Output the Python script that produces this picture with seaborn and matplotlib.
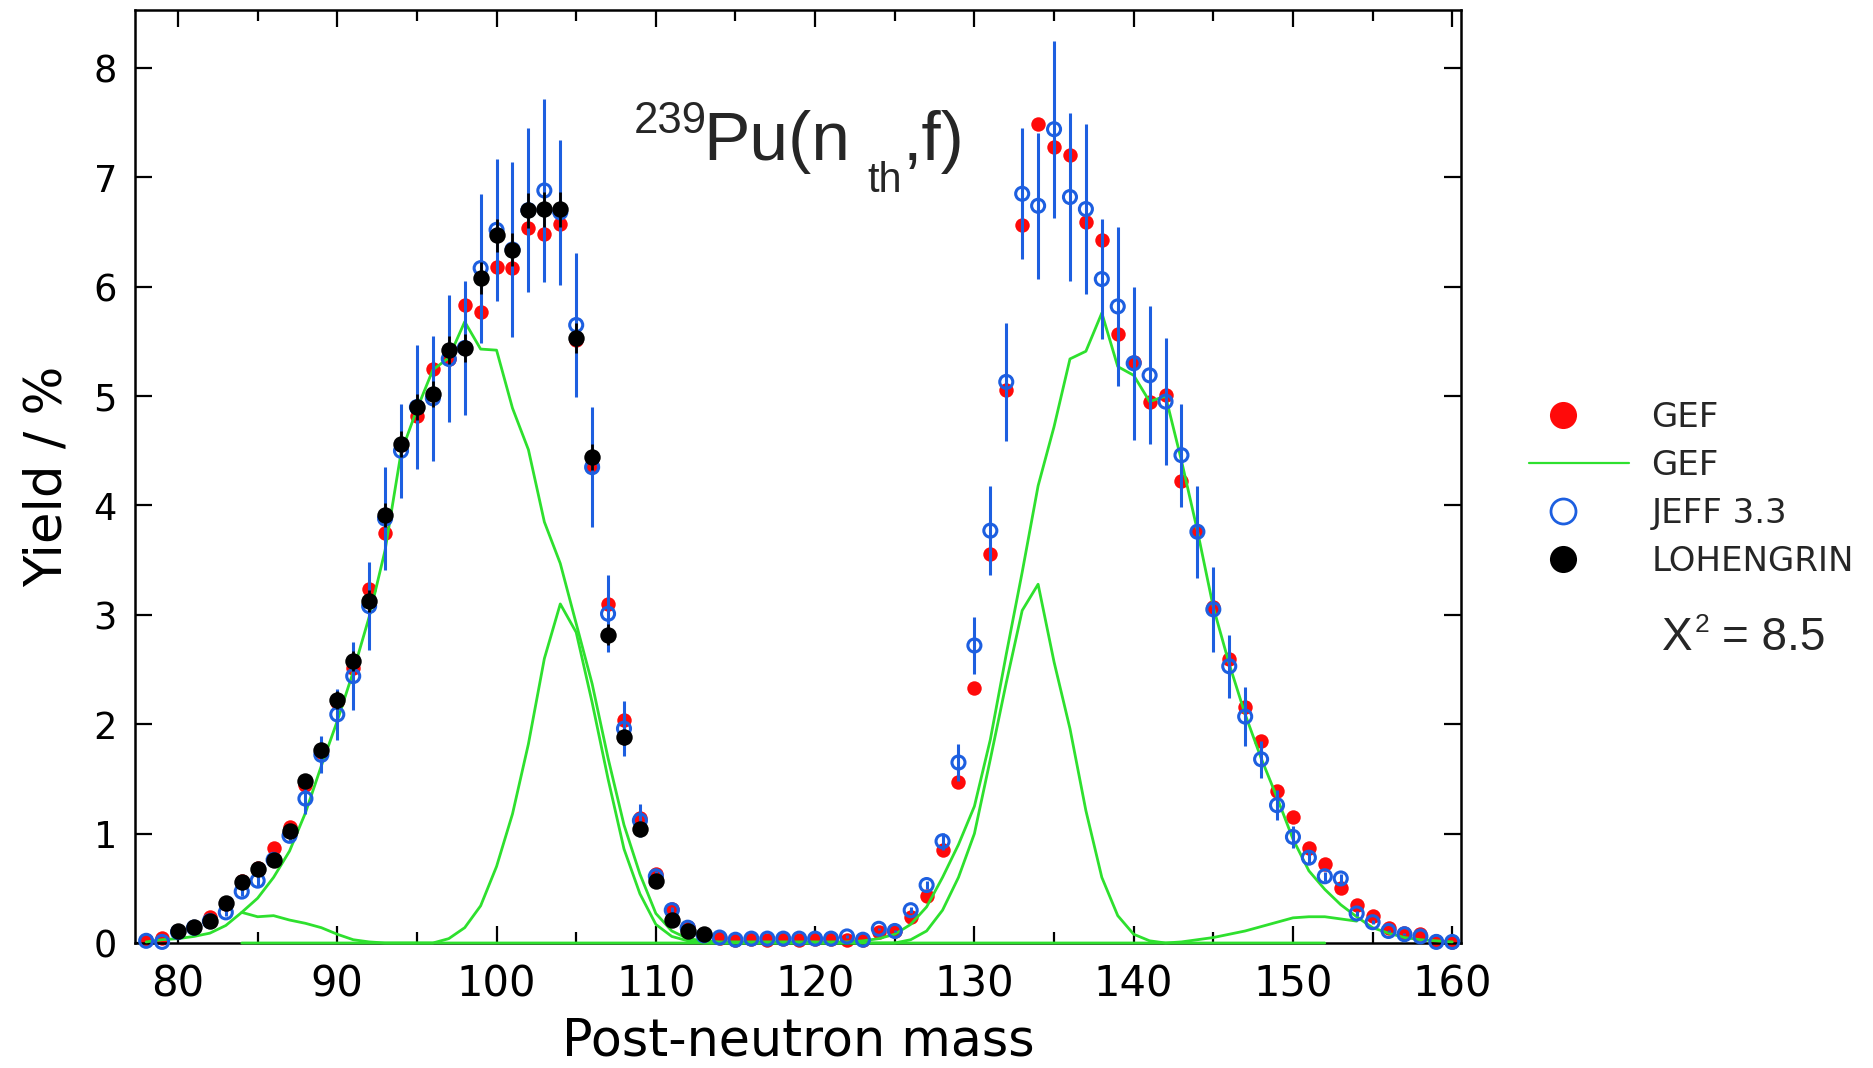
import matplotlib
matplotlib.use("Agg")
import matplotlib.pyplot as plt
import seaborn as sns
from matplotlib.lines import Line2D
from matplotlib.legend_handler import HandlerLine2D
from matplotlib.ticker import MultipleLocator

# ---------------------------------------------------------------- data
mass_all = list(range(78, 161))          # post-neutron mass, GEF / JEFF points
mass_lohengrin = list(range(80, 114))    # LOHENGRIN light-fragment masses
mass_s1 = list(range(84, 153))           # GEF standard-1 mode curve
mass_s3 = list(range(84, 155))           # GEF standard-3 mode curve

gef_yield = [
    0.03, 0.05, 0.11, 0.15, 0.24, 0.36, 0.57, 0.69, 0.87, 1.06,   # 78-87
    1.44, 1.75, 2.20, 2.51, 3.24, 3.75, 4.55, 4.82, 5.25, 5.34,   # 88-97
    5.83, 5.77, 6.18, 6.17, 6.54, 6.48, 6.57, 5.51, 4.37, 3.10,   # 98-107
    2.04, 1.14, 0.63, 0.31, 0.15, 0.08, 0.05, 0.03, 0.04, 0.03,   # 108-117
    0.04, 0.03, 0.04, 0.04, 0.03, 0.03, 0.10, 0.11, 0.24, 0.43,   # 118-127
    0.85, 1.47, 2.33, 3.56, 5.06, 6.56, 7.49, 7.28, 7.20, 6.59,   # 128-137
    6.43, 5.57, 5.31, 4.95, 5.01, 4.22, 3.77, 3.07, 2.60, 2.16,   # 138-147
    1.85, 1.39, 1.15, 0.87, 0.72, 0.50, 0.35, 0.25, 0.14, 0.09,   # 148-157
    0.08, 0.02, 0.01,                                             # 158-160
]

jeff_yield = [
    0.02, 0.01, 0.10, 0.14, 0.20, 0.28, 0.47, 0.57, 0.76, 0.98,
    1.32, 1.72, 2.09, 2.44, 3.08, 3.88, 4.50, 4.90, 4.98, 5.34,
    5.44, 6.17, 6.52, 6.34, 6.70, 6.88, 6.68, 5.65, 4.35, 3.01,
    1.96, 1.12, 0.61, 0.30, 0.14, 0.07, 0.05, 0.03, 0.04, 0.04,
    0.04, 0.04, 0.04, 0.04, 0.06, 0.03, 0.13, 0.11, 0.30, 0.53,
    0.93, 1.65, 2.72, 3.77, 5.13, 6.85, 6.74, 7.44, 6.82, 6.71,
    6.07, 5.82, 5.30, 5.19, 4.95, 4.46, 3.76, 3.05, 2.53, 2.07,
    1.68, 1.26, 0.97, 0.78, 0.61, 0.59, 0.27, 0.19, 0.11, 0.08,
    0.06, 0.01, 0.01,
]

jeff_err = [
    0.00, 0.00, 0.01, 0.01, 0.02, 0.03, 0.04, 0.05, 0.06, 0.06,
    0.14, 0.17, 0.23, 0.31, 0.40, 0.47, 0.43, 0.57, 0.57, 0.58,
    0.61, 0.68, 0.65, 0.80, 0.75, 0.84, 0.66, 0.66, 0.55, 0.35,
    0.25, 0.15, 0.05, 0.03, 0.01, 0.01, 0.00, 0.00, 0.00, 0.00,
    0.00, 0.00, 0.00, 0.00, 0.01, 0.00, 0.01, 0.01, 0.03, 0.04,
    0.08, 0.17, 0.26, 0.41, 0.54, 0.60, 0.67, 0.81, 0.77, 0.78,
    0.55, 0.73, 0.70, 0.63, 0.58, 0.47, 0.42, 0.39, 0.29, 0.27,
    0.17, 0.14, 0.10, 0.06, 0.04, 0.04, 0.02, 0.02, 0.01, 0.01,
    0.00, 0.00, 0.00,
]

lohengrin_yield = [
    0.11, 0.15, 0.20, 0.37, 0.56, 0.68, 0.76, 1.02, 1.48, 1.76,   # 80-89
    2.22, 2.58, 3.13, 3.91, 4.56, 4.90, 5.02, 5.42, 5.44, 6.08,   # 90-99
    6.47, 6.34, 6.70, 6.71, 6.71, 5.53, 4.44, 2.82, 1.88, 1.04,   # 100-109
    0.57, 0.21, 0.11, 0.08,                                       # 110-113
]
lohengrin_err = [
    0.01, 0.01, 0.02, 0.02, 0.03, 0.03, 0.04, 0.05, 0.06, 0.07,
    0.08, 0.09, 0.10, 0.11, 0.12, 0.12, 0.12, 0.13, 0.13, 0.15,
    0.15, 0.15, 0.16, 0.16, 0.16, 0.14, 0.12, 0.10, 0.07, 0.05,
    0.03, 0.02, 0.01, 0.01,
]

gef_total = [
    0.01, 0.03, 0.04, 0.06, 0.09, 0.16, 0.28, 0.41, 0.60, 0.84,   # 78-87
    1.19, 1.62, 2.03, 2.48, 2.98, 3.59, 4.48, 4.88, 5.24, 5.35,   # 88-97
    5.68, 5.43, 5.42, 4.89, 4.51, 3.85, 3.47, 2.92, 2.37, 1.69,   # 98-107
    1.08, 0.63, 0.27, 0.11, 0.04, 0.02, 0.01, 0.01, 0.01, 0.01,   # 108-117
    0.01, 0.01, 0.01, 0.01, 0.01, 0.02, 0.04, 0.08, 0.17, 0.33,   # 118-127
    0.60, 0.90, 1.25, 1.86, 2.64, 3.39, 4.18, 4.72, 5.34, 5.41,   # 128-137
    5.76, 5.27, 5.19, 4.95, 5.00, 4.41, 3.77, 3.07, 2.55, 2.09,   # 138-147
    1.69, 1.33, 0.95, 0.66, 0.49, 0.35, 0.24, 0.14, 0.09, 0.05,   # 148-157
    0.03, 0.02, 0.01,                                             # 158-160
]

gef_s1 = [
    0.00, 0.00, 0.00, 0.00, 0.00, 0.00, 0.00, 0.00, 0.00, 0.00,   # 84-93
    0.00, 0.00, 0.00, 0.04, 0.14, 0.34, 0.70, 1.18, 1.82, 2.60,   # 94-103
    3.10, 2.84, 2.20, 1.50, 0.86, 0.45, 0.17, 0.06, 0.02, 0.00,   # 104-113
    0.00, 0.00, 0.00, 0.00, 0.00, 0.00, 0.00, 0.00, 0.00, 0.00,   # 114-123
    0.00, 0.00, 0.03, 0.11, 0.30, 0.60, 1.00, 1.68, 2.38, 3.04,   # 124-133
    3.28, 2.57, 1.96, 1.21, 0.60, 0.25, 0.08, 0.02, 0.00, 0.00,   # 134-143
    0.00, 0.00, 0.00, 0.00, 0.00, 0.00, 0.00, 0.00, 0.00,         # 144-152
]

gef_s3 = [
    0.28, 0.24, 0.25, 0.21, 0.18, 0.14, 0.08, 0.03, 0.01, 0.00,   # 84-93
    0.00, 0.00, 0.00, 0.00, 0.00, 0.00, 0.00, 0.00, 0.00, 0.00,   # 94-103
    0.00, 0.00, 0.00, 0.00, 0.00, 0.00, 0.00, 0.00, 0.00, 0.00,   # 104-113
    0.00, 0.00, 0.00, 0.00, 0.00, 0.00, 0.00, 0.00, 0.00, 0.00,   # 114-123
    0.00, 0.00, 0.00, 0.00, 0.00, 0.00, 0.00, 0.00, 0.00, 0.00,   # 124-133
    0.00, 0.00, 0.00, 0.00, 0.00, 0.00, 0.00, 0.00, 0.00, 0.01,   # 134-143
    0.03, 0.05, 0.08, 0.11, 0.15, 0.19, 0.23, 0.24, 0.24, 0.22,   # 144-153
    0.20,                                                         # 154
]

x_ticks = [80, 90, 100, 110, 120, 130, 140, 150, 160]
x_tick_labels = ["80", "90", "100", "110", "120", "130", "140", "150", "160"]
y_ticks = [0, 1, 2, 3, 4, 5, 6, 7, 8]
y_tick_labels = ["0", "1", "2", "3", "4", "5", "6", "7", "8"]

legend_labels = ["GEF", "GEF", "JEFF 3.3", "LOHENGRIN"]

# ---------------------------------------------------------------- style
RED = "#ff0a0a"
GREEN = "#2ee02e"
BLUE = "#1d5fe0"

sns.set_theme(style="ticks")
plt.rcParams["font.family"] = ["DejaVu Sans"]
plt.rcParams["axes.linewidth"] = 1.8

W, H = 1874, 1068
fig = plt.figure(figsize=(W / 100, H / 100), dpi=100, facecolor="white")
ax = fig.add_axes([135 / W, 1 - 943 / H, (1461 - 135) / W, (943 - 10) / H])
ax.set_facecolor("white")

# GEF points (bottom layer)
sns.scatterplot(x=mass_all, y=gef_yield, color=RED, s=108, linewidth=0,
                ax=ax, zorder=2, clip_on=False, legend=False)

# GEF calculated curves: total and two mode components
for xs, ys in ((mass_all, gef_total), (mass_s1, gef_s1), (mass_s3, gef_s3)):
    sns.lineplot(x=xs, y=ys, color=GREEN, linewidth=2.0, ax=ax,
                 zorder=3, clip_on=False, legend=False)

# JEFF 3.3 evaluation with uncertainties
ax.errorbar(mass_all, jeff_yield, yerr=jeff_err, fmt="none",
            ecolor=BLUE, elinewidth=2.2, capsize=0, zorder=4)
sns.scatterplot(x=mass_all, y=jeff_yield, marker="o", s=88,
                facecolor="none", edgecolor=BLUE, linewidth=2.2,
                ax=ax, zorder=4, clip_on=False, legend=False)

# LOHENGRIN measurement
ax.errorbar(mass_lohengrin, lohengrin_yield, yerr=lohengrin_err, fmt="none",
            ecolor="black", elinewidth=2.0, capsize=0, zorder=5)
sns.scatterplot(x=mass_lohengrin, y=lohengrin_yield, color="black", s=140,
                linewidth=0, ax=ax, zorder=5, clip_on=False, legend=False)

# ---------------------------------------------------------------- axes
ax.set_xlim(77.3, 160.55)
ax.set_ylim(0, 8.53)
ax.set_xticks(x_ticks)
ax.set_xticklabels(x_tick_labels,
                   fontfamily=["Liberation Sans Narrow", "DejaVu Sans"],
                   fontsize=30)
ax.xaxis.set_minor_locator(MultipleLocator(5))
ax.set_yticks(y_ticks)
ax.set_yticklabels(y_tick_labels, fontsize=26.5)

ax.tick_params(which="both", direction="in", top=True, right=True,
               width=1.6, color="black", labelcolor="black")
ax.tick_params(which="major", length=12.5)
ax.tick_params(which="minor", length=8)
ax.tick_params(axis="x", which="major", pad=15)
ax.tick_params(axis="y", which="major", pad=13)
for sp in ax.spines.values():
    sp.set_visible(True)
    sp.set_color("black")
    sp.set_linewidth(1.8)

ax.set_xlabel("Post-neutron mass", fontsize=36.5, labelpad=8, color="black")
ax.set_ylabel("Yield / %", fontsize=37, labelpad=15, color="black")

# ---------------------------------------------------------------- title
title_font = ["Liberation Sans", "DejaVu Sans"]
fig.text(634 / W, 1 - 133 / H, "239", fontsize=31.5, family=title_font,
         ha="left", va="baseline")
fig.text(703 / W, 1 - 160 / H, "Pu(n", fontsize=50, family=title_font,
         ha="left", va="baseline")
fig.text(867 / W, 1 - 192 / H, "th", fontsize=30, family=title_font,
         ha="left", va="baseline")
fig.text(903 / W, 1 - 160 / H, ",f)", fontsize=50, family=title_font,
         ha="left", va="baseline")

# chi-square annotation
fig.text(1662 / W, 1 - 650 / H, "X", fontsize=33, family=title_font,
         ha="left", va="baseline")
fig.text(1695 / W, 1 - 632 / H, "2", fontsize=19, family=title_font,
         ha="left", va="baseline")
fig.text(1722 / W, 1 - 650 / H, "= 8.5", fontsize=33, family=title_font,
         ha="left", va="baseline")


# ---------------------------------------------------------------- legend
class LeftMarkerHandler(HandlerLine2D):
    """Puts the single legend marker a third of the way along the handle."""

    def get_xdata(self, legend, xdescent, ydescent, width, height, fontsize):
        start = -xdescent
        return [start, start + 0.68 * width], [start + 0.34 * width]


handles = [
    Line2D([], [], linestyle="none", marker="o", markersize=19.5,
           markerfacecolor=RED, markeredgewidth=0),
    Line2D([], [], color=GREEN, linewidth=1.6),
    Line2D([], [], linestyle="none", marker="o", markersize=18,
           markerfacecolor="none", markeredgecolor=BLUE, markeredgewidth=2.0),
    Line2D([], [], linestyle="none", marker="o", markersize=19.5,
           markerfacecolor="black", markeredgewidth=0),
]
handler_map = {h: LeftMarkerHandler(numpoints=1)
               for h in (handles[0], handles[2], handles[3])}
fig.legend(handles, legend_labels, loc="upper left", handler_map=handler_map,
           bbox_to_anchor=(1529 / W, 1 - 401 / H), frameon=False,
           fontsize=24.5, handlelength=2.95, handletextpad=0.65,
           labelspacing=0.44, borderpad=0, borderaxespad=0)

fig.savefig("out.png", dpi=100, facecolor="white")
